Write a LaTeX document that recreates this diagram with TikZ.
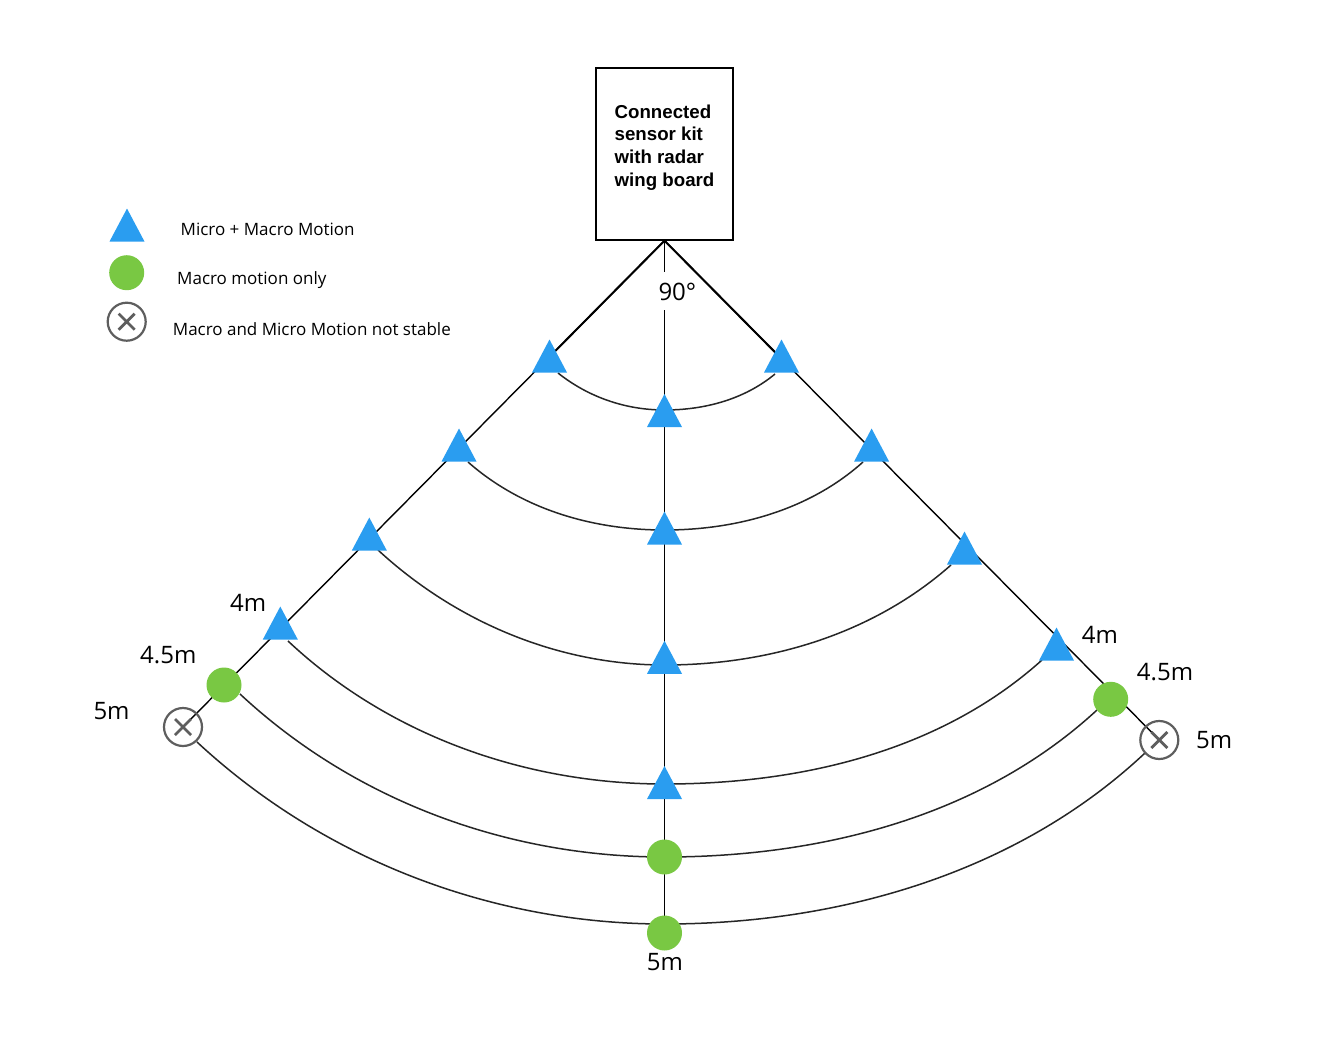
\documentclass[tikz,border=0pt]{standalone}
\usepackage{fontspec}
\setmainfont{Open Sans}
\newfontfamily\kitfont{Liberation Sans}
\usetikzlibrary{shapes.geometric,backgrounds,calc}
\definecolor{triblue}{HTML}{2A9DF0}
\definecolor{dotgreen}{HTML}{79C843}
\definecolor{xgray}{HTML}{5E5E5E}
\definecolor{arcgray}{HTML}{262626}
\begin{document}
\begin{tikzpicture}[x=1pt,y=1pt,
  tri/.style={isosceles triangle, isosceles triangle stretches, shape border rotate=90,
    minimum width=35pt, minimum height=33pt, inner sep=0pt, fill=triblue, draw=none, yshift=-5pt},
  grn/.style={circle, fill=dotgreen, minimum size=35pt, inner sep=0pt, draw=none},
  xmark/.style={circle, draw=xgray, line width=2.2pt, minimum size=38pt, inner sep=0pt,
    path picture={\draw[xgray, line width=2.8pt]
      ($(path picture bounding box.center)+(-8,-8)$) -- ++(16,16)
      ($(path picture bounding box.center)+(-8,8)$) -- ++(16,-16);}},
  conn/.style={draw=black, line width=1.4pt},
  conntop/.style={draw=black, line width=2pt},
  arcline/.style={draw=arcgray, line width=1.5pt, looseness=0.88},
  dist/.style={font=\fontsize{24}{28}\selectfont, anchor=base west, inner sep=0pt},
  legtext/.style={font=\fontsize{17}{20}\selectfont, anchor=base west, inner sep=0pt},
  kitbox/.style={draw=black, line width=1.3pt, minimum width=137pt, minimum height=172pt, inner sep=0pt},
  kitlabel/.style={font=\kitfont\bfseries\fontsize{18.7}{22.7}\selectfont, align=left, inner sep=0pt}
]
\useasboundingbox (0,0) rectangle (1323,-1045);

% sensor box
\node[kitbox] (kit) at (664.5,-154) {};
\node[kitlabel] (kittext) at (664.5,-147.5) {Connected\\sensor kit\\with radar\\wing board};
\coordinate (apex) at (kit.south);

% legend
\node[tri] (legtri) at (127,-226) {};
\node[grn] (leggrn) at (126.7,-272.7) {};
\node[xmark] (legx) at (126.7,-321.7) {};
\node[legtext] (legt1) at (180.5,-235.7) {Micro + Macro Motion};
\node[legtext] (legt2) at (177,-284) {Macro motion only};
\node[legtext] (legt3) at (172.7,-335) {Macro and Micro Motion not stable};

% markers left
\node[tri] (l1) at (549.5,-357) {};
\node[tri] (l2) at (459,-446) {};
\node[tri] (l3) at (369.3,-535) {};
\node[tri] (l4) at (280.3,-624) {};
\node[grn] (lg) at (224,-685) {};
\node[xmark] (lx) at (183,-727) {};
% markers centre
\node[tri] (c1) at (664.5,-411.5) {};
\node[tri] (c2) at (664.5,-529) {};
\node[tri] (c3) at (664.5,-658.3) {};
\node[tri] (c4) at (664.5,-783.5) {};
\node[grn] (c5) at (664.5,-857) {};
\node[grn] (c6) at (664.5,-933) {};
% markers right
\node[tri] (r1) at (781.5,-357) {};
\node[tri] (r2) at (871.6,-446) {};
\node[tri] (r3) at (964.5,-549) {};
\node[tri] (r4) at (1056.5,-645) {};
\node[grn] (rg) at (1110.7,-699.3) {};
\node[xmark] (rx) at (1159.3,-740) {};

% labels
\node[dist] (deg) at (658.3,-300) {90°};
\node[dist] (l4m) at (230,-611) {4m};
\node[dist] (l45m) at (140,-663.3) {4.5m};
\node[dist] (l5m) at (93.3,-719.3) {5m};
\node[dist] (r4m) at (1081.7,-643.3) {4m};
\node[dist] (r45m) at (1136.7,-680.7) {4.5m};
\node[dist] (r5m) at (1196,-748.3) {5m};
\node[dist] (b5m) at (646.7,-970) {5m};

% arc end points
\coordinate (gapT) at (664.5,-272);
\coordinate (gapB) at (664.5,-310);
\coordinate (a1L) at (558,-373);  \coordinate (m1) at (664.5,-410);  \coordinate (a1R) at (775,-374);
\coordinate (a2L) at (468,-462);  \coordinate (m2) at (664.5,-530);  \coordinate (a2R) at (863,-462);
\coordinate (a3L) at (378,-550);  \coordinate (m3) at (664.5,-665);  \coordinate (a3R) at (951,-565);
\coordinate (a4L) at (288,-641);  \coordinate (m4) at (664.5,-784);  \coordinate (a4R) at (1042,-660);
\coordinate (a5L) at (240,-694);  \coordinate (m5) at (664.5,-857);  \coordinate (a5R) at (1097,-710);
\coordinate (a6L) at (197,-742);  \coordinate (m6) at (664.5,-924);  \coordinate (a6R) at (1145,-753);

\begin{scope}[on background layer]
  \fill[white] (0,0) rectangle (1323,-1045);
  \draw[conn] (apex) -- (lx.center);
  \draw[conn] (apex) -- (rx.center);
  \draw[conntop] (apex) -- ($(apex)!(l1.center)!(lx.center)$);
  \draw[conntop] (apex) -- ($(apex)!(r1.center)!(rx.center)$);
  \draw[conn] (apex) -- (gapT);
  \draw[conn] (gapB) -- (c6.center);
  \draw[arcline] (a1L) to[out=-38.5,in=180] (m1) to[out=0,in=219.6] (a1R);
  \draw[arcline] (a2L) to[out=-41.4,in=180] (m2) to[out=0,in=221.9] (a2R);
  \draw[arcline] (a3L) to[out=-42.7,in=180] (m3) to[out=0,in=221.5] (a3R);
  \draw[arcline] (a4L) to[out=-43.2,in=180] (m4) to[out=0,in=222] (a4R);
  \draw[arcline] (a5L) to[out=-43.0,in=180] (m5) to[out=0,in=222.7] (a5R);
  \draw[arcline] (a6L) to[out=-42.9,in=180] (m6) to[out=0,in=223.2] (a6R);
\end{scope}
\end{tikzpicture}
\end{document}
